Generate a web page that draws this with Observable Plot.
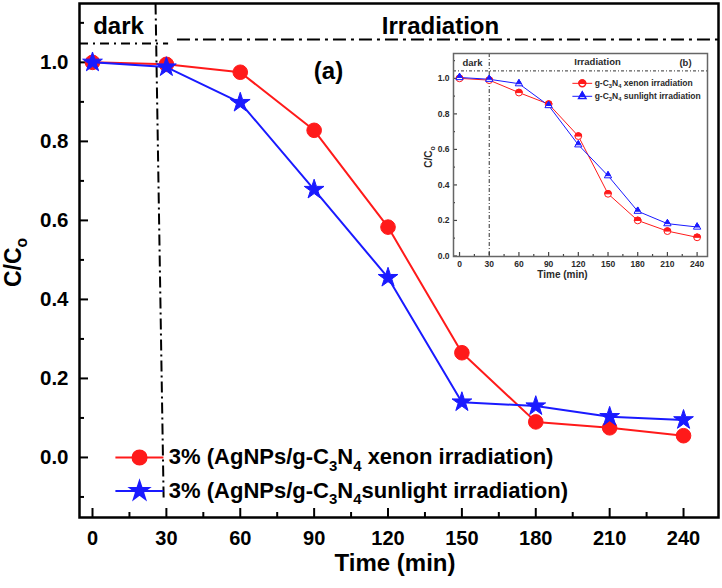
<!DOCTYPE html>
<html>
<head>
<meta charset="utf-8">
<script src="https://cdn.jsdelivr.net/npm/d3@7"></script>
<script src="https://cdn.jsdelivr.net/npm/@observablehq/plot@0.6"></script>
<style>
  body { margin: 0; background: white; }
  #wrap { position: relative; width: 722px; height: 588px; }
  #main { position: absolute; left: 0; top: 0; }
  #inset { position: absolute; left: 418px; top: 51px; }
</style>
</head>
<body>
<div id="wrap"><div id="main"></div><div id="inset"></div></div>
<script>
// ---------- data ----------
const time = [0, 30, 60, 90, 120, 150, 180, 210, 240];
const xenonMain = [1.0, 0.995, 0.975, 0.828, 0.583, 0.265, 0.09, 0.075, 0.055];
const sunMain   = [1.0, 0.988, 0.898, 0.678, 0.455, 0.14, 0.13, 0.103, 0.095];
const xenonInset = [1.0, 0.99, 0.92, 0.855, 0.675, 0.35, 0.20, 0.14, 0.105];
const sunInset   = [1.005, 0.995, 0.97, 0.847, 0.626, 0.452, 0.252, 0.182, 0.163];
const mainLegend = ["3% (AgNPs/g-C_3N_4 xenon irradiation)", "3% (AgNPs/g-C_3N_4sunlight irradiation)"];
const insetLegend = ["g-C_3N_4 xenon irradiation", "g-C_3N_4 sunlight irradiation"];
const xTicks = [0, 30, 60, 90, 120, 150, 180, 210, 240];
const xMinor = [15, 45, 75, 105, 135, 165, 195, 225];
const yTicks = [0, 0.2, 0.4, 0.6, 0.8, 1.0];
const yMinor = [-0.1, 0.1, 0.3, 0.5, 0.7, 0.9, 1.1];
const insetYMinor = [0.1, 0.3, 0.5, 0.7, 0.9, 1.1];

const RED = "#ff1a1a", BLUE = "#1a1aff";
const FONT = "'Liberation Sans', Arial, Helvetica, sans-serif";
const rows = vals => time.map((t, i) => ({t, v: vals[i]}));

// ---------- main chart ----------
const W = 722, H = 588, mL = 79, mR = 4, mT = 3, mB = 71;
const innerW = W - mL - mR, innerH = H - mT - mB;
const X0 = -5.28, X1 = 254.2, Y0 = -0.152, Y1 = 1.149;
const bold = {fontWeight: "bold"};

const main = Plot.plot({
  width: W, height: H,
  marginLeft: mL, marginRight: mR, marginTop: mT, marginBottom: mB,
  x: {domain: [X0, X1]},
  y: {domain: [Y0, Y1]},
  style: {fontFamily: FONT, background: "white", color: "black"},
  marks: [
    // inward ticks
    Plot.tickX(xTicks, {x: d => d, insetTop: innerH - 9, stroke: "black", strokeWidth: 2}),
    Plot.tickX(xMinor, {x: d => d, insetTop: innerH - 5, stroke: "black", strokeWidth: 2}),
    Plot.tickY(yTicks, {y: d => d, insetRight: innerW - 9, stroke: "black", strokeWidth: 2}),
    Plot.tickY(yMinor, {y: d => d, insetRight: innerW - 5, stroke: "black", strokeWidth: 2}),
    Plot.axisX(xTicks, {tickSize: 0, tickPadding: 13, fontSize: 20, ...bold, label: null}),
    Plot.axisY(yTicks, {tickSize: 0, tickPadding: 11, fontSize: 20.5, ...bold, tickFormat: d => d.toFixed(1), label: null}),
    // axis titles
    Plot.text(["Time (min)"], {frameAnchor: "bottom", dx: -4, dy: 53, lineAnchor: "bottom", fontSize: 24, ...bold}),
    Plot.text(["C/C_o"], {frameAnchor: "left", dx: -66, dy: 2, rotate: -90, textAnchor: "middle", lineAnchor: "middle", fontSize: 23, ...bold}),
    // dark / irradiation separators
    Plot.link([0], {x1: 25.6, x2: 28.9, y1: Y1, y2: -0.11, stroke: "black", strokeWidth: 2, strokeDasharray: "11,4,2,4"}),
    Plot.ruleY([1.048], {x1: X0, x2: 30.9, stroke: "black", strokeWidth: 2, strokeDasharray: "9,5,2,5"}),
    Plot.ruleY([1.058], {x1: 34.5, x2: X1, stroke: "black", strokeWidth: 2, strokeDasharray: "13,5,3,5"}),
    Plot.text(["dark"], {frameAnchor: "top-left", dx: 39, dy: 30, textAnchor: "middle", lineAnchor: "bottom", fontSize: 24, ...bold}),
    Plot.text(["Irradiation"], {frameAnchor: "top-left", dx: 361, dy: 30, textAnchor: "middle", lineAnchor: "bottom", fontSize: 24, ...bold}),
    Plot.text(["(a)"], {frameAnchor: "top-left", dx: 249, dy: 68, textAnchor: "middle", lineAnchor: "middle", fontSize: 24, ...bold}),
    Plot.frame({stroke: "black", strokeWidth: 2.5}),
    // series
    Plot.line(rows(xenonMain), {x: "t", y: "v", stroke: RED, strokeWidth: 2}),
    Plot.dot(rows(xenonMain), {x: "t", y: "v", r: 7.3, fill: RED, stroke: RED, strokeWidth: 1}),
    Plot.line(rows(sunMain), {x: "t", y: "v", stroke: BLUE, strokeWidth: 2}),
    Plot.dot(rows(sunMain), {x: "t", y: "v", symbol: "star", r: 6.2, fill: BLUE, stroke: BLUE, strokeWidth: 1}),
    // legend
    Plot.link(mainLegend, {x1: 9.3, x2: 28.8, y1: (d, i) => -0.085 * i, y2: (d, i) => -0.085 * i, stroke: (d, i) => [RED, BLUE][i], strokeWidth: 2}),
    Plot.dot(mainLegend.slice(0, 1), {x: 19.1, y: 0, r: 7.3, fill: RED, stroke: RED}),
    Plot.dot(mainLegend.slice(1), {x: 19.1, y: -0.085, symbol: "star", r: 6.2, fill: BLUE, stroke: BLUE}),
    Plot.text(mainLegend, {x: 31, y: (d, i) => -0.085 * i, text: d => d, textAnchor: "start", lineAnchor: "middle", fontSize: 22, ...bold})
  ]
});
document.getElementById("main").appendChild(main);

// ---------- inset ----------
const iW = 291, iH = 235, imL = 35, imR = 2, imT = 2, imB = 30;
const iInW = iW - imL - imR, iInH = iH - imT - imB;
const IX0 = -6.1, IX1 = 250.5, IY0 = -0.003, IY1 = 1.14;

const halfCircle = {draw(ctx, size) { const r = Math.sqrt(size / Math.PI); ctx.moveTo(r, 0); ctx.arc(0, 0, r, 0, Math.PI, true); ctx.closePath(); }};
const fullCircle = {draw(ctx, size) { const r = Math.sqrt(size / Math.PI); ctx.moveTo(r, 0); ctx.arc(0, 0, r, 0, 2 * Math.PI); ctx.closePath(); }};
const fullTri = {draw(ctx, size) { const R = Math.sqrt(size / Math.PI) * 1.25; const h = R / 2; ctx.moveTo(0, -R); ctx.lineTo(Math.sqrt(3) * h, h); ctx.lineTo(-Math.sqrt(3) * h, h); ctx.closePath(); }};
const halfTri = {draw(ctx, size) { const R = Math.sqrt(size / Math.PI) * 1.25; const w = R / Math.sqrt(3); ctx.moveTo(0, -R); ctx.lineTo(w, 0); ctx.lineTo(-w, 0); ctx.closePath(); }};

const ibold = {fontWeight: "bold", fill: "#2a2a2a"};
const inset = Plot.plot({
  width: iW, height: iH,
  marginLeft: imL, marginRight: imR, marginTop: imT, marginBottom: imB,
  x: {domain: [IX0, IX1]},
  y: {domain: [IY0, IY1]},
  style: {fontFamily: FONT, background: "transparent", color: "#2a2a2a"},
  marks: [
    Plot.frame({fill: "white", stroke: "none"}),
    Plot.tickX(xTicks, {x: d => d, insetTop: iInH - 4, stroke: "#444", strokeWidth: 1.2}),
    Plot.tickX(xMinor, {x: d => d, insetTop: iInH - 2, stroke: "#444", strokeWidth: 1.2}),
    Plot.tickY(yTicks, {y: d => d, insetRight: iInW - 4, stroke: "#444", strokeWidth: 1.2}),
    Plot.tickY(insetYMinor, {y: d => d, insetRight: iInW - 2, stroke: "#444", strokeWidth: 1.2}),
    Plot.axisX(xTicks, {tickSize: 0, tickPadding: 4, fontSize: 8.5, ...ibold, label: null}),
    Plot.axisY(yTicks, {tickSize: 0, tickPadding: 4, fontSize: 8.5, ...ibold, tickFormat: d => d.toFixed(1), label: null}),
    Plot.text(["Time (min)"], {frameAnchor: "bottom-left", dx: 109, dy: 21, textAnchor: "middle", lineAnchor: "bottom", fontSize: 10, ...ibold}),
    Plot.text(["C/C_o"], {frameAnchor: "left", dx: -25, dy: 2, rotate: -90, textAnchor: "middle", lineAnchor: "middle", fontSize: 10, ...ibold}),
    Plot.ruleX([30], {stroke: "#333", strokeWidth: 1, strokeDasharray: "4,2,1,2"}),
    Plot.ruleY([1.042], {stroke: "#333", strokeWidth: 1, strokeDasharray: "3,2,1,2"}),
    Plot.text(["dark"], {frameAnchor: "top-left", dx: 19, dy: 12, textAnchor: "middle", lineAnchor: "bottom", fontSize: 9.5, ...ibold}),
    Plot.text(["Irradiation"], {frameAnchor: "top-left", dx: 144, dy: 11, textAnchor: "middle", lineAnchor: "bottom", fontSize: 9.5, ...ibold}),
    Plot.text(["(b)"], {frameAnchor: "top-left", dx: 232, dy: 12, textAnchor: "middle", lineAnchor: "bottom", fontSize: 9.5, ...ibold}),
    Plot.frame({stroke: "#666", strokeWidth: 1.5}),
    // series
    Plot.line(rows(xenonInset), {x: "t", y: "v", stroke: RED, strokeWidth: 1}),
    Plot.line(rows(sunInset), {x: "t", y: "v", stroke: BLUE, strokeWidth: 1}),
    Plot.dot(rows(xenonInset), {x: "t", y: "v", symbol: fullCircle, r: 3.4, fill: "white", stroke: RED, strokeWidth: 1}),
    Plot.dot(rows(xenonInset), {x: "t", y: "v", symbol: halfCircle, r: 3.4, fill: RED, stroke: RED, strokeWidth: 1}),
    Plot.dot(rows(sunInset), {x: "t", y: "v", symbol: fullTri, r: 3.4, fill: "white", stroke: BLUE, strokeWidth: 1}),
    Plot.dot(rows(sunInset), {x: "t", y: "v", symbol: halfTri, r: 3.4, fill: BLUE, stroke: BLUE, strokeWidth: 1}),
    // legend
    Plot.link(insetLegend, {x1: 114, x2: 134, y1: (d, i) => 0.972 - 0.073 * i, y2: (d, i) => 0.972 - 0.073 * i, stroke: (d, i) => [RED, BLUE][i], strokeWidth: 1}),
    Plot.dot(insetLegend.slice(0, 1), {x: 124, y: 0.972, symbol: fullCircle, r: 3.4, fill: "white", stroke: RED}),
    Plot.dot(insetLegend.slice(0, 1), {x: 124, y: 0.972, symbol: halfCircle, r: 3.4, fill: RED, stroke: RED}),
    Plot.dot(insetLegend.slice(1), {x: 124, y: 0.899, symbol: fullTri, r: 3.4, fill: "white", stroke: BLUE}),
    Plot.dot(insetLegend.slice(1), {x: 124, y: 0.899, symbol: halfTri, r: 3.4, fill: BLUE, stroke: BLUE}),
    Plot.text(insetLegend, {x: 136.5, y: (d, i) => 0.972 - 0.073 * i, text: d => d, textAnchor: "start", lineAnchor: "middle", fontSize: 8.5, ...ibold})
  ]
});
document.getElementById("inset").appendChild(inset);

// ---------- subscripts: "_x" -> subscript tspan ----------
function applySubs(svg) {
  const NS = "http://www.w3.org/2000/svg";
  svg.querySelectorAll("text").forEach(t => {
    const nodes = t.querySelectorAll("tspan").length ? [...t.querySelectorAll("tspan")] : [t];
    nodes.forEach(n => {
      const s = n.textContent;
      if (!s.includes("_")) return;
      const fs = parseFloat(getComputedStyle(n).fontSize) || 10;
      n.textContent = "";
      let shifted = false;
      s.split(/(_.)/).forEach(p => {
        if (!p) return;
        const ts = document.createElementNS(NS, "tspan");
        if (p[0] === "_") {
          ts.textContent = p.slice(1);
          ts.setAttribute("font-size", (fs * 0.68).toFixed(2));
          ts.setAttribute("dy", (fs * 0.28).toFixed(2));
          shifted = true;
        } else {
          ts.textContent = p;
          if (shifted) { ts.setAttribute("dy", (-fs * 0.28).toFixed(2)); shifted = false; }
        }
        n.appendChild(ts);
      });
    });
  });
}
applySubs(main);
applySubs(inset);
</script>
</body>
</html>
